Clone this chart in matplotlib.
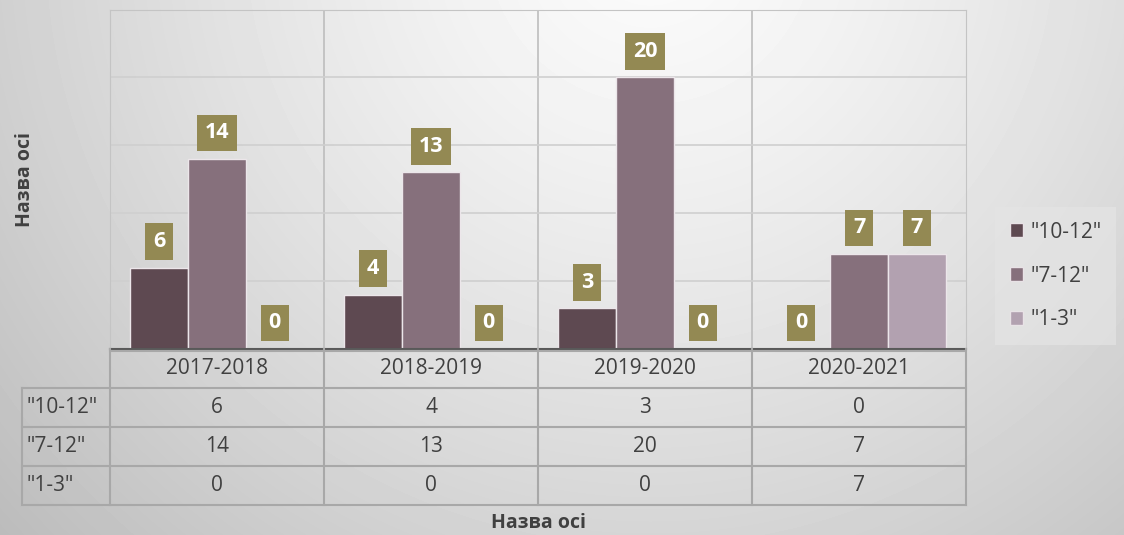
import numpy as np
import matplotlib.pyplot as plt
from matplotlib.patches import Patch

categories = ["2017-2018", "2018-2019", "2019-2020", "2020-2021"]
series_names = ['"10-12"', '"7-12"', '"1-3"']
vals_10_12 = [6, 4, 3, 0]
vals_7_12 = [14, 13, 20, 7]
vals_1_3 = [0, 0, 0, 7]
series = [vals_10_12, vals_7_12, vals_1_3]
colors = ["#5e4951", "#86707c", "#b2a1b0"]
label_bg = "#938953"
txt = "#404040"
font = "Open Sans"

W, H = 1124, 535
fig = plt.figure(figsize=(W / 100, H / 100), dpi=100)


def px(l, t, r, b):
    return [l / W, 1 - b / H, (r - l) / W, (b - t) / H]


# background gradient
bg = fig.add_axes([0, 0, 1, 1])
yy, xx = np.mgrid[0:H, 0:W]
d = np.hypot(xx - 650, yy + 60)
shade = 0.985 - 0.22 * (d / 800) ** 1.3
bg.imshow(shade, cmap="gray", vmin=0, vmax=1, aspect="auto", extent=[0, W, H, 0])
bg.axis("off")

# chart
ax = fig.add_axes(px(110, 9.5, 966, 349))
ax.patch.set_visible(False)
ax.set_xlim(-0.5, 3.5)
ax.set_ylim(0, 25)
ax.set_yticks(range(0, 26, 5))
ax.yaxis.grid(True, color="#cfcfcf", lw=1.2)
ax.set_axisbelow(True)
ax.tick_params(left=False, bottom=False, labelleft=False, labelbottom=False)
for s in ["left", "right", "top"]:
    ax.spines[s].set_color("#c4c4c4")
ax.spines["bottom"].set_color("#595959")
ax.spines["bottom"].set_linewidth(1.5)
for xv in [0.5, 1.5, 2.5]:
    ax.axvline(xv, color="#bdbdbd", lw=1.2, zorder=0)

x = np.arange(len(categories))
bw = 0.27
for i, (vals, c) in enumerate(zip(series, colors)):
    xs = x + (i - 1) * bw
    ax.bar(xs, vals, bw, color=c, edgecolor="#ece6ea", lw=1, zorder=2)
    for xi, v in zip(xs, vals):
        ax.annotate(str(v), (xi, v), xytext=(0, 26), textcoords="offset pixels",
                    ha="center", va="center", color="white", fontweight="bold",
                    fontsize=15.5, family=font, zorder=4,
                    bbox=dict(boxstyle="square,pad=0.36", fc=label_bg, ec="none"))

# data table
tab = fig.add_axes(px(22, 349, 966, 505))
tab.patch.set_visible(False)
left = -0.5 - 88 / 214
tab.set_xlim(left, 3.5)
tab.set_ylim(4, 0)
tab.axis("off")
lc = "#a8a8a8"
tab.plot([-0.5, 3.5], [0.06, 0.06], color=lc, lw=1.5)
for r in [1, 2, 3, 4]:
    tab.plot([left, 3.5], [r, r], color=lc, lw=1.5, clip_on=False)
for xv in [-0.5, 0.5, 1.5, 2.5, 3.5]:
    tab.plot([xv, xv], [0, 4], color=lc, lw=1.5, clip_on=False)
tab.plot([left, left], [1, 4], color=lc, lw=1.5, clip_on=False)
for j, cat in enumerate(categories):
    tab.text(j, 0.5, cat, ha="center", va="center", fontsize=15, color=txt, family=font)
for i, (name, vals) in enumerate(zip(series_names, series)):
    tab.text(left + 5 / 214, i + 1.5, name, ha="left", va="center", fontsize=15,
             color=txt, family=font)
    for j, v in enumerate(vals):
        tab.text(j, i + 1.5, str(v), ha="center", va="center", fontsize=15,
                 color=txt, family=font)

# legend
handles = [Patch(fc=c, ec="#e8e2e6", lw=1) for c in colors]
leg = fig.legend(handles, series_names, loc="upper left",
                 bbox_to_anchor=(995 / W, 1 - 207 / H), frameon=True, fancybox=False,
                 borderaxespad=0, borderpad=0.7, handlelength=0.65, handleheight=0.65,
                 handletextpad=0.35, labelspacing=1.1,
                 prop={"family": font, "size": 15})
leg.get_frame().set_facecolor("#e4e4e4")
leg.get_frame().set_alpha(0.7)
leg.get_frame().set_edgecolor("none")
for t in leg.get_texts():
    t.set_color(txt)

# axis titles
fig.text(25 / W, 1 - 180 / H, "Назва осі", rotation=90, ha="center", va="center",
         fontsize=14, fontweight="bold", color=txt, family=font)
fig.text(538 / W, 1 - 523 / H, "Назва осі", ha="center", va="center",
         fontsize=14, fontweight="bold", color=txt, family=font)

fig.savefig("out.png", dpi=100)
